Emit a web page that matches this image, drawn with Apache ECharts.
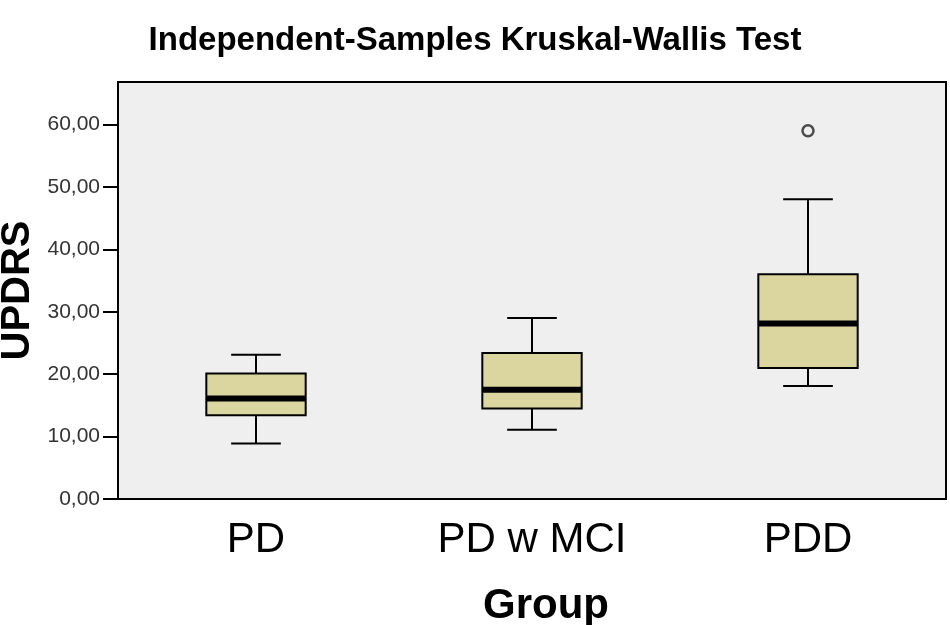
<!DOCTYPE html>
<html>
<head>
<meta charset="utf-8">
<script src="https://cdn.jsdelivr.net/npm/echarts@6/dist/echarts.min.js"></script>
<style>
html, body { margin: 0; padding: 0; background: #fff; }
#main { width: 950px; height: 625px; }
</style>
</head>
<body>
<div id="main"></div>
<script>
// groups and box statistics
var groups = ['PD', 'PD w MCI', 'PDD'];
var whiskerLow = [8.9, 11.1, 18.1];
var q1 = [13.4, 14.5, 21.0];
var median = [16.1, 17.5, 28.1];
var q3 = [20.1, 23.4, 36.0];
var whiskerHigh = [23.1, 29.0, 48.0];
// outliers: [group index, value]
var outliers = [[2, 59.0]];

var chart = echarts.init(document.getElementById('main'));

var boxData = [];
for (var i = 0; i < groups.length; i++) {
	boxData.push([i, whiskerLow[i], q1[i], median[i], q3[i], whiskerHigh[i]]);
}

function renderBox(params, api) {
	var idx = api.value(0);
	var band = api.size([1, 0])[0];
	var boxW = band * 0.36;
	var capW = boxW * 0.5;
	var pLow = api.coord([idx, api.value(1)]);
	var pQ1 = api.coord([idx, api.value(2)]);
	var pMed = api.coord([idx, api.value(3)]);
	var pQ3 = api.coord([idx, api.value(4)]);
	var pHigh = api.coord([idx, api.value(5)]);
	var x = pMed[0];
	var line = { stroke: '#000', lineWidth: 2 };
	return {
		type: 'group',
		children: [
			{ type: 'line', shape: { x1: x, y1: pHigh[1], x2: x, y2: pQ3[1] }, style: line },
			{ type: 'line', shape: { x1: x, y1: pLow[1], x2: x, y2: pQ1[1] }, style: line },
			{ type: 'line', shape: { x1: x - capW / 2, y1: pHigh[1], x2: x + capW / 2, y2: pHigh[1] }, style: line },
			{ type: 'line', shape: { x1: x - capW / 2, y1: pLow[1], x2: x + capW / 2, y2: pLow[1] }, style: line },
			{ type: 'rect', shape: { x: x - boxW / 2, y: pQ3[1], width: boxW, height: pQ1[1] - pQ3[1] },
				style: { fill: '#dbd5a0', stroke: '#000', lineWidth: 2 } },
			{ type: 'line', shape: { x1: x - boxW / 2, y1: pMed[1], x2: x + boxW / 2, y2: pMed[1] },
				style: { stroke: '#000', lineWidth: 6 } }
		]
	};
}

var option = {
	animation: false,
	title: {
		text: 'Independent-Samples Kruskal-Wallis Test',
		left: 'center',
		top: 19,
		textStyle: { fontFamily: 'Liberation Sans, Arial, sans-serif', fontSize: 33, fontWeight: 'bold', color: '#000' }
	},
	grid: {
		left: 118, right: 4, top: 82, bottom: 126,
		outerBoundsMode: 'none',
		containLabel: false,
		show: true,
		backgroundColor: '#efefef',
		borderColor: '#000',
		borderWidth: 2
	},
	xAxis: {
		type: 'category',
		data: groups,
		boundaryGap: true,
		name: 'Group',
		nameLocation: 'middle',
		nameGap: 86,
		nameMoveOverlap: false,
		nameTextStyle: {
			fontFamily: 'Liberation Sans, Arial, sans-serif', fontSize: 42, fontWeight: 'bold', color: '#000',
			padding: [0, 0, 0, 28]
		},
		axisLine: { lineStyle: { color: '#000', width: 2 } },
		axisTick: { alignWithLabel: true, inside: false, length: 15, lineStyle: { color: '#000', width: 2 } },
		axisLabel: { margin: 20, fontFamily: 'Liberation Sans, Arial, sans-serif', fontSize: 42, color: '#000' },
		splitLine: { show: false }
	},
	yAxis: {
		type: 'value',
		min: 0,
		max: 66.8,
		interval: 10,
		name: 'UPDRS',
		nameLocation: 'middle',
		nameGap: 80,
		nameMoveOverlap: false,
		nameTextStyle: { fontFamily: 'Liberation Sans, Arial, sans-serif', fontSize: 40, fontWeight: 'bold', color: '#000' },
		axisLine: { show: true, lineStyle: { color: '#000', width: 2 } },
		axisTick: { show: true, inside: false, length: 15, lineStyle: { color: '#000', width: 2 } },
		axisLabel: {
			margin: 18,
			showMaxLabel: false,
			fontFamily: 'Liberation Sans, Arial, sans-serif',
			fontSize: 21,
			color: '#333',
			formatter: function(v) { return v.toFixed(2).replace('.', ','); }
		},
		splitLine: { show: false }
	},
	series: [{
		type: 'custom',
		renderItem: renderBox,
		encode: { x: 0, y: [1, 2, 3, 4, 5] },
		data: boxData,
		z: 2
	}, {
		type: 'scatter',
		data: outliers,
		symbol: 'circle',
		symbolSize: 11,
		itemStyle: { color: '#efefef', borderColor: '#222', borderWidth: 2.5 },
		z: 3
	}]
};

chart.setOption(option);
</script>
</body>
</html>
